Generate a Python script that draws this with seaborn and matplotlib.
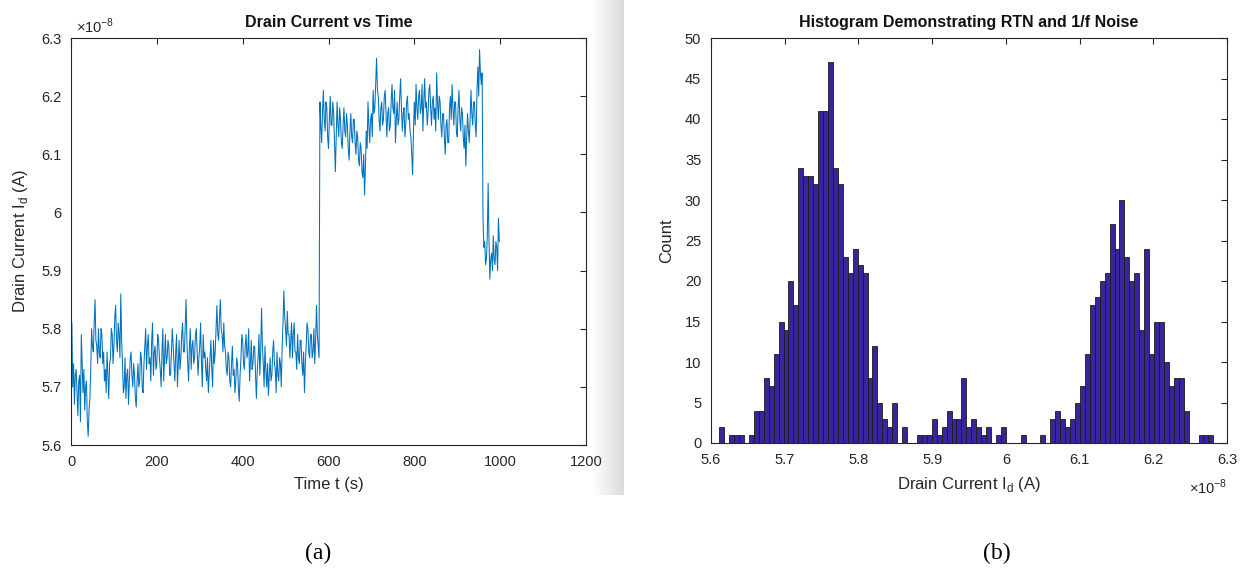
import numpy as np
import pandas as pd
import matplotlib
matplotlib.use("Agg")
import matplotlib.pyplot as plt
import seaborn as sns

# ---------------- data (currents in units of 1e-8 A) ----------------
sample_step_s = 2
drain_current = [
    5.76, 5.81, 5.70, 5.74, 5.67, 5.72, 5.73, 5.69, 5.65, 5.71, 5.72, 5.64, 5.79, 5.74,
    5.69, 5.73, 5.66, 5.70, 5.71, 5.64, 5.615, 5.66, 5.68, 5.73, 5.80, 5.77,
    5.76, 5.81, 5.85, 5.78, 5.77, 5.74, 5.80, 5.76, 5.75, 5.80, 5.79, 5.74, 5.76, 5.71,
    5.73, 5.69, 5.76, 5.72, 5.68, 5.74,
    5.75, 5.80, 5.79, 5.74, 5.77, 5.82, 5.84, 5.78, 5.76, 5.81, 5.79, 5.75, 5.86, 5.78,
    5.74, 5.69, 5.70, 5.75, 5.68, 5.72, 5.73, 5.67, 5.71, 5.75, 5.76, 5.72, 5.70, 5.74,
    5.72, 5.68, 5.665, 5.71, 5.74, 5.70, 5.71, 5.76, 5.75, 5.70, 5.69, 5.74,
    5.77, 5.80, 5.73, 5.77, 5.79, 5.74, 5.75, 5.71, 5.78, 5.81, 5.72, 5.76, 5.77, 5.73,
    5.74, 5.79,
    5.78, 5.75, 5.73, 5.70, 5.76, 5.80, 5.71, 5.75, 5.79, 5.74, 5.75, 5.78, 5.77, 5.72,
    5.72, 5.76, 5.80, 5.77, 5.74, 5.71, 5.76, 5.79, 5.70, 5.74, 5.78, 5.73, 5.75, 5.79,
    5.81, 5.76, 5.76, 5.80, 5.85, 5.78, 5.74, 5.71, 5.77, 5.80,
    5.73, 5.77, 5.78, 5.74, 5.75, 5.79, 5.80, 5.76, 5.72, 5.75, 5.77, 5.81, 5.74, 5.70,
    5.79, 5.75, 5.76, 5.73, 5.71, 5.75,
    5.69, 5.72, 5.75, 5.78, 5.73, 5.70, 5.78, 5.74, 5.76, 5.80,
    5.84, 5.79, 5.78, 5.82, 5.85, 5.80, 5.79, 5.76, 5.81, 5.77,
    5.76, 5.73, 5.72, 5.76, 5.75, 5.71, 5.70, 5.74, 5.77, 5.72, 5.73, 5.69, 5.71, 5.75,
    5.74, 5.70, 5.675, 5.72,
    5.75, 5.79, 5.78, 5.74, 5.73, 5.77, 5.79, 5.75, 5.76, 5.80, 5.71, 5.74, 5.78, 5.73,
    5.74, 5.77, 5.77, 5.72, 5.68, 5.73,
    5.75, 5.79, 5.72, 5.76, 5.835, 5.77, 5.74, 5.70, 5.77, 5.73, 5.70, 5.74, 5.685, 5.72,
    5.75, 5.71, 5.72, 5.76, 5.78, 5.74, 5.73, 5.69, 5.76, 5.72, 5.71, 5.75, 5.74, 5.70,
    5.77, 5.81,
    5.865, 5.82, 5.80, 5.77, 5.83, 5.79, 5.79, 5.75,
    5.78, 5.81, 5.75, 5.79, 5.81, 5.76, 5.76, 5.73, 5.79, 5.75, 5.74, 5.78, 5.78, 5.74,
    5.72, 5.76, 5.69, 5.74,
    5.77, 5.81, 5.80, 5.76, 5.75, 5.79, 5.79, 5.75, 5.76, 5.80, 5.74, 5.78, 5.84, 5.79,
    5.77, 5.75,
    6.19, 6.15,
    6.12, 6.17, 6.21, 6.16, 6.14, 6.19, 6.18, 6.13, 6.11, 6.16, 6.20, 6.15, 6.15, 6.19,
    6.17, 6.12, 6.07, 6.13, 6.19, 6.15, 6.13, 6.18,
    6.16, 6.12, 6.11, 6.15, 6.18, 6.14, 6.13, 6.17, 6.15, 6.11, 6.09, 6.14, 6.17, 6.13,
    6.12, 6.16, 6.16, 6.12, 6.10, 6.14,
    6.13, 6.09, 6.08, 6.12, 6.11, 6.07, 6.06, 6.10, 6.03, 6.08,
    6.14, 6.11, 6.19, 6.15, 6.12, 6.16, 6.17, 6.13, 6.21, 6.17,
    6.18, 6.22, 6.265, 6.21, 6.20, 6.16,
    6.14, 6.18, 6.19, 6.15, 6.16, 6.20, 6.21, 6.17, 6.13, 6.17, 6.18, 6.14, 6.15, 6.19,
    6.22, 6.18, 6.17, 6.21, 6.12, 6.16, 6.19, 6.15, 6.16, 6.20, 6.23, 6.18, 6.14, 6.17,
    6.18, 6.13, 6.15, 6.19, 6.20, 6.16, 6.17, 6.14,
    6.13, 6.10, 6.065, 6.14,
    6.19, 6.15, 6.22, 6.18, 6.16, 6.20, 6.21, 6.17, 6.18, 6.22, 6.14, 6.19, 6.23, 6.18,
    6.19, 6.15, 6.17, 6.21, 6.22, 6.18, 6.15, 6.19, 6.20, 6.16, 6.18, 6.14, 6.24, 6.19,
    6.16, 6.20, 6.19, 6.15,
    6.13, 6.17, 6.17, 6.13, 6.10, 6.15, 6.16, 6.12, 6.12, 6.18, 6.20, 6.16,
    6.22, 6.18, 6.15, 6.19, 6.19, 6.14, 6.13, 6.18, 6.21, 6.16, 6.14, 6.18, 6.17, 6.13,
    6.11, 6.15, 6.08, 6.13,
    6.17, 6.14, 6.12, 6.16, 6.21, 6.17, 6.15, 6.19, 6.19, 6.15, 6.13, 6.21,
    6.25, 6.20, 6.28, 6.24, 6.22, 6.24,
    5.99, 5.94,
    5.95, 5.91, 5.92, 5.96, 6.05, 5.95, 5.885, 5.92, 5.93, 5.90, 5.96, 5.92, 5.91, 5.95,
    5.94, 5.90, 5.99, 5.95,
]
time_s = np.arange(len(drain_current)) * sample_step_s

hist_counts = [
    2, 0, 1, 1, 1, 0, 1, 4, 4, 8, 7, 11, 15, 14, 20, 17, 34, 33, 33, 32, 41, 41, 47,
    34, 32, 23, 21, 24, 22, 21, 8, 12, 5, 3, 2, 5, 0, 2, 0, 0, 1, 1, 1, 3, 1, 2, 4,
    3, 3, 8, 2, 3, 2, 1, 2, 0, 1, 2, 0, 0, 0, 1, 0, 0, 0, 1, 0, 3, 4, 3, 2, 3, 5, 7, 11,
    17, 18, 20, 21, 27, 24, 30, 23, 20, 21, 14, 24, 11, 15, 15, 10, 7, 8, 8, 4, 0, 0, 1, 1, 1,
]
hist_min, hist_max = 5.6113, 6.2815

current_ticks = [5.6, 5.7, 5.8, 5.9, 6.0, 6.1, 6.2, 6.3]
current_ticklabels = ["5.6", "5.7", "5.8", "5.9", "6", "6.1", "6.2", "6.3"]
time_ticks = [0, 200, 400, 600, 800, 1000, 1200]
count_ticks = list(range(0, 51, 5))

# ---------------- style ----------------
sns.set_style("white")
plt.rcParams["font.family"] = ["Liberation Sans", "DejaVu Sans"]
plt.rcParams["mathtext.fontset"] = "custom"
plt.rcParams["mathtext.rm"] = "Liberation Sans"
TXT = "#262626"

W, H = 1248, 576
fig = plt.figure(figsize=(W / 100, H / 100), dpi=100)
fig.patch.set_facecolor("white")

# screenshot edge shading between panels
gax = fig.add_axes([592 / W, 1 - 495 / H, 32 / W, 495 / H])
grad = np.linspace(1.0, 0.86, 64)[None, :]
gax.imshow(grad, cmap="gray", vmin=0, vmax=1, aspect="auto", extent=[0, 1, 0, 1])
gax.axis("off")

ax1 = fig.add_axes([71 / W, 1 - 445 / H, 515 / W, 407 / H])
ax2 = fig.add_axes([711 / W, 1 - 443 / H, 516 / W, 405 / H])

sns.lineplot(x=time_s, y=drain_current, ax=ax1, color="#0072BD", linewidth=0.75)
ax1.set_xlim(0, 1200)
ax1.set_ylim(5.6, 6.3)
ax1.set_xticks(time_ticks)
ax1.set_xticklabels([str(t) for t in time_ticks])
ax1.set_yticks(current_ticks)
ax1.set_yticklabels(current_ticklabels)
ax1.set_xlabel("Time t (s)", fontsize=12, color=TXT, labelpad=6)
ax1.set_ylabel(r"Drain Current I$_\mathrm{d}$ (A)", fontsize=12, color=TXT, labelpad=8)
ax1.set_title("Drain Current vs Time", fontsize=11.5, fontweight="bold", color="#111111", pad=8)
ax1.text(0.01, 1.005, r"$\times10^{-8}$", transform=ax1.transAxes, fontsize=10.5,
         color=TXT, ha="left", va="bottom")

edges = np.linspace(hist_min, hist_max, len(hist_counts) + 1)
centers = (edges[:-1] + edges[1:]) / 2
hist_df = pd.DataFrame({"current": centers, "count": hist_counts})
sns.histplot(data=hist_df, x="current", weights="count", bins=list(edges), ax=ax2,
             color="#38249C", edgecolor="#1c1c1c", linewidth=0.6, alpha=1.0)
ax2.set_xlim(5.6, 6.3)
ax2.set_ylim(0, 50)
ax2.set_xticks(current_ticks)
ax2.set_xticklabels(current_ticklabels)
ax2.set_yticks(count_ticks)
ax2.set_yticklabels([str(c) for c in count_ticks])
ax2.set_xlabel(r"Drain Current I$_\mathrm{d}$ (A)", fontsize=12, color=TXT, labelpad=6)
ax2.set_ylabel("Count", fontsize=12, color=TXT, labelpad=8)
ax2.set_title("Histogram Demonstrating RTN and 1/f Noise", fontsize=11.5, fontweight="bold",
              color="#111111", pad=8)
ax2.text(1.0, -0.085, r"$\times10^{-8}$", transform=ax2.transAxes, fontsize=10.5,
         color=TXT, ha="right", va="top")

for ax in (ax1, ax2):
    ax.tick_params(direction="in", top=True, right=True, length=4, width=0.8,
                   colors=TXT, labelsize=10.5, pad=7)
    for s in ax.spines.values():
        s.set_color(TXT)
        s.set_linewidth(0.8)
    ax.set_facecolor("white")

fig.text(318 / W, 1 - 553 / H, "(a)", family="Liberation Serif", fontsize=17, color="black",
         ha="center", va="center")
fig.text(997 / W, 1 - 553 / H, "(b)", family="Liberation Serif", fontsize=17, color="black",
         ha="center", va="center")

fig.savefig("out.png", dpi=100, facecolor="white")
